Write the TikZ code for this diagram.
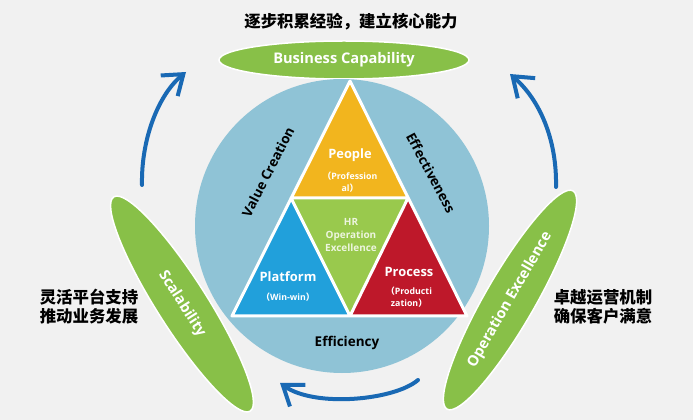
\documentclass[tikz,border=0pt]{standalone}
\usepackage{fontspec}
\setmainfont{Open Sans}
\newfontfamily\cjk{Noto Sans CJK SC}
\usetikzlibrary{arrows.meta, shapes.geometric}
\definecolor{bggray}{RGB}{241,241,241}
\definecolor{ringblue}{RGB}{143,195,214}
\definecolor{peopleyellow}{RGB}{242,181,30}
\definecolor{hrgreen}{RGB}{153,201,77}
\definecolor{platblue}{RGB}{33,160,219}
\definecolor{procred}{RGB}{190,24,42}
\definecolor{bandgreen}{RGB}{136,192,72}
\definecolor{flowblue}{RGB}{25,105,180}
\newcommand{\px}{0.3mm}

\begin{document}
\begin{tikzpicture}[x=\px, y=-\px,
    band/.style={ellipse, fill=bandgreen, draw=white, line width=1.5*\px, inner sep=0pt,
      text=white, font=\fontsize{12.5}{14}\selectfont\bfseries},
    ringlabel/.style={font=\fontsize{11.5}{13}\selectfont\bfseries, text=black},
    tlabel/.style={font=\fontsize{11}{13}\selectfont\bfseries, text=white},
    sublabel/.style={font=\fontsize{7.5}{10}\selectfont\bfseries, text=white, align=center},
    cjktext/.style={font=\cjk\bfseries\fontsize{14}{16}\selectfont, align=center},
    flow/.style={flowblue, line width=4*\px, line cap=round,
      -{Straight Barb[length=5.5mm, width=8mm]}}]
  \fill[bggray] (0,0) rectangle (693,420);
  \useasboundingbox (0,0) rectangle (693,420);
  % headline and side notes
  \node[cjktext] (goal) at (351,22) {逐步积累经验，建立核心能力};
  \node[cjktext] (flex) at (89,307) {灵活平台支持\\推动业务发展};
  \node[cjktext] (serve) at (603,307) {卓越运营机制\\确保客户满意};
  % green bands
  \node[band, minimum width=250*\px, minimum height=38*\px] (bizcap) at (344,60) {Business Capability};
  % ring
  \node[circle, fill=ringblue, minimum size=294*\px, inner sep=0pt] (ring) at (342,226) {};
  \node[band, rotate=-57.5, minimum width=254*\px, minimum height=50*\px] (scal) at (182,304) {Scalability};
  \node[band, rotate=60, minimum width=252*\px, minimum height=50*\px] (opex) at (510,300) {Operation Excellence};
  % triangle
  \coordinate (apex) at (350,81);
  \coordinate (bl) at (232,316);
  \coordinate (br) at (467,316);
  \coordinate (ml) at (291,198);
  \coordinate (mr) at (408,198);
  \coordinate (mb) at (350,316);
  \fill[peopleyellow] (apex) -- (ml) -- (mr) -- cycle;
  \fill[hrgreen] (ml) -- (mr) -- (mb) -- cycle;
  \fill[platblue] (ml) -- (bl) -- (mb) -- cycle;
  \fill[procred] (mr) -- (mb) -- (br) -- cycle;
  \draw[white, line width=3*\px, line join=round] (apex) -- (bl) -- (br) -- cycle (ml) -- (mr) -- (mb) -- cycle;
  \node[tlabel] (people) at (350,155) {People};
  \node[sublabel] (peoplesub) at (350,182) {{\cjk （}Profession\\al{\cjk ）}};
  \node[font=\fontsize{8.5}{11}\selectfont\bfseries, text=white!82!hrgreen, align=center] (hr) at (351,235) {HR\\Operation\\Excellence};
  \node[tlabel] (platform) at (288,277) {Platform};
  \node[sublabel] (platsub) at (288,297) {{\cjk （}Win-win{\cjk ）}};
  \node[tlabel] (process) at (409,272) {Process};
  \node[sublabel] (procsub) at (409,297) {{\cjk （}Producti\\zation{\cjk ）}};
  % ring labels
  \node[ringlabel, rotate=63] (value) at (268,172) {Value Creation};
  \node[ringlabel, rotate=-62] (effect) at (431,173) {Effectiveness};
  \node[ringlabel] (effic) at (347,343) {Efficiency};
  % arrows
  \coordinate (ulA) at (142,185);
  \coordinate (ulB) at (186,72);
  \coordinate (urA) at (556,187);
  \coordinate (urB) at (510,74);
  \coordinate (btA) at (418,380);
  \coordinate (btB) at (280,383);
  \draw[flow] (ulA) .. controls (141,140) and (158,95) .. (ulB);
  \draw[flow] (urA) .. controls (557,140) and (540,100) .. (urB);
  \draw[flow] (btA) .. controls (395,400) and (315,408) .. (btB);
\end{tikzpicture}
\end{document}
